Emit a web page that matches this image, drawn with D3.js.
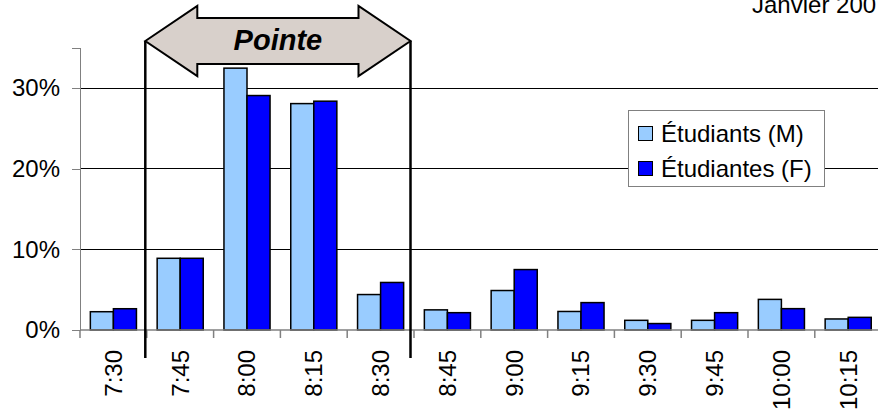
<!DOCTYPE html>
<html><head><meta charset="utf-8">
<script src="https://cdn.jsdelivr.net/npm/d3@7"></script>
<style>body{margin:0;background:#fff;overflow:hidden}svg{display:block;font-family:Arial,"Liberation Sans",sans-serif}</style>
</head><body><svg id="c" width="878" height="410"></svg>
<script>
const categories = ["7:30","7:45","8:00","8:15","8:30","8:45","9:00","9:15","9:30","9:45","10:00","10:15"];
const seriesNames = ["Étudiants (M)","Étudiantes (F)"];
const valuesM = [2.27, 8.9, 32.5, 28.1, 4.4, 2.5, 4.9, 2.3, 1.2, 1.2, 3.8, 1.37];
const valuesF = [2.64, 8.9, 29.1, 28.4, 5.9, 2.15, 7.5, 3.4, 0.8, 2.15, 2.65, 1.57];
const yTicks = [0, 10, 20, 30];
const colors = ["#99CCFF", "#0000FF"];
const peakRange = ["7:45", "8:30"];
const peakLabel = "Pointe";
const titleText = "Janvier 200";

const svg = d3.select("#c");
const x0 = 80, y0 = 330;
const x = d3.scaleBand().domain(categories).range([x0, x0 + 12 * 66.8]).padding(0);
const y = d3.scaleLinear().domain([0, 35]).range([y0, y0 - 35 * 8.057]);
const bw = x.bandwidth();
const pad = bw * 0.155;
const xs = d3.scaleBand().domain(seriesNames).range([pad, bw - pad]).padding(0);

// title
svg.append("text").attr("x", 752).attr("y", 13).attr("font-size", 24).attr("fill", "#000").text(titleText);

// gridlines
svg.append("g").selectAll("line").data(yTicks.filter(d => d > 0)).join("line")
  .attr("x1", x0).attr("x2", 878).attr("y1", d => y(d)).attr("y2", d => y(d))
  .attr("stroke", "#000").attr("stroke-width", 1).attr("shape-rendering", "crispEdges");

// y axis
const yAxis = svg.append("g").attr("transform", `translate(${x0},0)`)
  .call(d3.axisLeft(y).tickValues(yTicks).tickFormat(d => d + "%").tickSize(8).tickPadding(12));
yAxis.select(".domain").attr("stroke", "#808080").attr("shape-rendering", "crispEdges");
yAxis.selectAll(".tick line").attr("stroke", "#808080").attr("shape-rendering", "crispEdges");
yAxis.selectAll(".tick text").attr("font-size", 24).attr("font-family", "Arial, 'Liberation Sans', sans-serif").attr("fill", "#000");

// bars
const data = categories.map((c, i) => ({ c, vals: [valuesM[i], valuesF[i]] }));
const groups = svg.append("g").selectAll("g").data(data).join("g")
  .attr("transform", d => `translate(${x(d.c)},0)`);
groups.selectAll("rect").data(d => d.vals.map((v, j) => ({ v, s: seriesNames[j], j }))).join("rect")
  .attr("x", d => xs(d.s)).attr("width", xs.bandwidth())
  .attr("y", d => y(d.v)).attr("height", d => y(0) - y(d.v))
  .attr("fill", d => colors[d.j]).attr("stroke", "#000").attr("stroke-width", 1.5);

// x axis
const xAxisG = svg.append("g").attr("transform", `translate(0,${y0})`);
xAxisG.append("line").attr("x1", x0).attr("x2", 878).attr("y1", 0).attr("y2", 0)
  .attr("stroke", "#808080").attr("stroke-width", 1.5);
xAxisG.selectAll("line.tk").data(categories).join("line").attr("class", "tk")
  .attr("x1", d => x(d)).attr("x2", d => x(d)).attr("y1", 0).attr("y2", 8)
  .attr("stroke", "#808080").attr("stroke-width", 1.5);
xAxisG.selectAll("text").data(categories).join("text")
  .attr("transform", d => `translate(${x(d) + bw / 2},20) rotate(-90)`)
  .attr("text-anchor", "end").attr("dy", "0.35em")
  .attr("font-size", 24).attr("fill", "#000").text(d => d);

// peak bracket
const lx = x(peakRange[0]) - 1.5;
const rx = x(peakRange[1]) + bw - 3.5;
const ty = 41;
svg.append("line").attr("x1", lx).attr("x2", lx).attr("y1", ty).attr("y2", 358).attr("stroke", "#000").attr("stroke-width", 2.5);
svg.append("line").attr("x1", rx).attr("x2", rx).attr("y1", ty).attr("y2", 358).attr("stroke", "#000").attr("stroke-width", 2.5);
const hl = 52, sh = 23, hh = 35;
const pts = [[lx, ty], [lx + hl, ty - hh], [lx + hl, ty - sh], [rx - hl, ty - sh], [rx - hl, ty - hh], [rx, ty],
  [rx - hl, ty + hh], [rx - hl, ty + sh], [lx + hl, ty + sh], [lx + hl, ty + hh]];
svg.append("path").attr("d", d3.line()(pts) + "Z").attr("fill", "#D8D0CB").attr("stroke", "#000").attr("stroke-width", 2).attr("stroke-linejoin", "miter");
svg.append("text").attr("x", (lx + rx) / 2).attr("y", 50).attr("text-anchor", "middle")
  .attr("font-size", 29).attr("font-weight", "bold").attr("font-style", "italic").attr("fill", "#000").text(peakLabel);

// legend
const lg = svg.append("g");
lg.append("rect").attr("x", 628.5).attr("y", 110.5).attr("width", 196).attr("height", 76)
  .attr("fill", "#fff").attr("stroke", "#808080").attr("stroke-width", 1);
seriesNames.forEach((s, i) => {
  lg.append("rect").attr("x", 638.5).attr("y", 126.5 + i * 35).attr("width", 14).attr("height", 14)
    .attr("fill", colors[i]).attr("stroke", "#000").attr("stroke-width", 1);
  lg.append("text").attr("x", 661).attr("y", 142 + i * 35).attr("font-size", 24).attr("fill", "#000").text(s);
});
</script></body></html>
